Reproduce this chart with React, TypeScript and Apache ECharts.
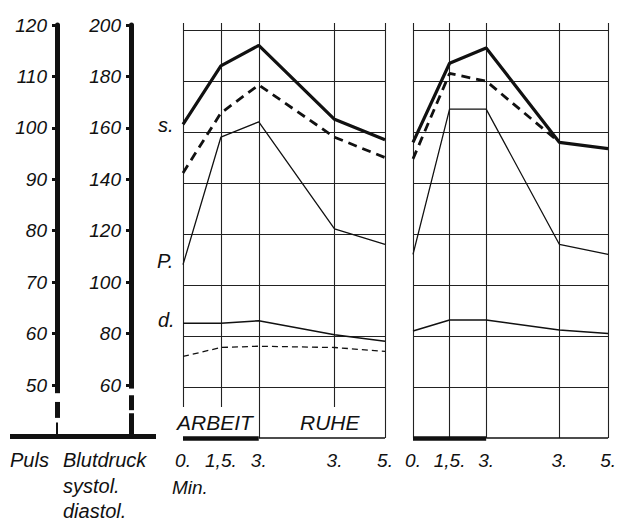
import React, { useEffect, useRef } from 'react';
import * as echarts from 'echarts';

// ---- data ----
const timeTicks = [0, 1.5, 3, 6, 8]; // Arbeit 0,1.5,3 min ; Ruhe 3,5 min (continuous time)
const timeLabels = ['0.', '1,5.', '3.', '3.', '5.'];
const gridLevels = [50, 60, 70, 80, 90, 100, 110, 120]; // Puls scale grid lines

// Panel I
const sysSolidI = [163, 186, 194, 165, 157];
const sysDashI = [144, 167.5, 178.5, 158, 150];
const pulsI = [74, 99, 102, 81, 78];
const diaSolidI = [85, 85, 86, 80.5, 78];
const diaDashI = [72, 75.5, 76, 75.5, 74];

// Panel II
const sysSolidII = [156, 187, 193, 156, 153.5];
const sysDashII = [149.5, 183, 180, 156];
const pulsII = [76, 104.5, 104.5, 78, 76];
const diaSolidII = [82, 86.3, 86.3, 82.4, 81];

// ---- layout / style ----
const FONT = "'Liberation Sans', 'DejaVu Sans', sans-serif";
const INK = '#111';
const GRIDC = '#222';
const P_MIN = 40;
const P_TOP = 121.4;
const BP_MIN = 40;
const BP_TOP = 2 * P_TOP - 40;
const PARTIAL_BOTTOM = 46.1;

const pairs = (vals: number[]) => vals.map((v, i) => [timeTicks[i], v]);

const seg = (a: number[], b: number[], style: any = {}) => [
  { coord: a, lineStyle: style },
  { coord: b },
];

function panelFrame(xi: number, yi: number, partial: boolean) {
  const data: any[] = [];
  gridLevels.forEach((v) => data.push(seg([0, v], [8, v], { width: 1.1, color: GRIDC })));
  timeTicks.forEach((t) => {
    const full = !partial || t === 3 || t === 8;
    data.push(seg([t, P_TOP], [t, full ? P_MIN : PARTIAL_BOTTOM], { width: 1.1, color: GRIDC }));
  });
  data.push(seg([0, P_MIN], [3, P_MIN], { width: 4.5, color: INK }));
  data.push(seg([3, P_MIN], [8, P_MIN], { width: 1.6, color: INK }));
  return {
    type: 'line',
    xAxisIndex: xi,
    yAxisIndex: yi,
    data: [],
    symbol: 'none',
    silent: true,
    markLine: {
      silent: true,
      symbol: ['none', 'none'],
      label: { show: false },
      animation: false,
      z: 1,
      lineStyle: { type: 'solid', color: GRIDC, width: 1 },
      data,
    },
  };
}

function lineSeries(xi: number, yi: number, vals: number[], width: number, type: any = 'solid') {
  return {
    type: 'line',
    xAxisIndex: xi,
    yAxisIndex: yi,
    data: pairs(vals),
    symbol: 'none',
    z: 3,
    lineStyle: { color: INK, width, type },
  };
}

const panelX = (gi: number) => ({
  gridIndex: gi,
  type: 'value',
  min: 0,
  max: 8,
  interval: 0.5,
  axisLine: { show: false },
  axisTick: { show: false },
  splitLine: { show: false },
  axisLabel: {
    show: true,
    margin: 13,
    fontSize: 19,
    fontStyle: 'italic',
    fontFamily: FONT,
    color: INK,
    showMinLabel: true,
    showMaxLabel: true,
    formatter: (v: number) => {
      const i = timeTicks.indexOf(v);
      return i >= 0 ? timeLabels[i] : '';
    },
  },
});

const hiddenY = (gi: number, min: number, max: number) => ({
  gridIndex: gi,
  type: 'value',
  min,
  max,
  show: false,
});

const labeledY = (gi: number, min: number, max: number, interval: number) => ({
  gridIndex: gi,
  type: 'value',
  position: 'left',
  min,
  max,
  interval,
  axisLine: { show: true, lineStyle: { color: INK, width: 5 } },
  axisTick: { show: true, length: 5, lineStyle: { color: INK, width: 3 } },
  splitLine: { show: false },
  axisLabel: {
    margin: 10,
    fontSize: 19,
    fontStyle: 'italic',
    fontFamily: FONT,
    color: INK,
    padding: [0, 0, 6, 0],
  },
});

const textEl = (text: string, x: number, y: number, size = 20) => ({
  type: 'text',
  x,
  y,
  silent: true,
  z: 10,
  style: {
    text,
    fontSize: size,
    fontStyle: 'italic',
    fontFamily: FONT,
    fill: INK,
    align: 'left',
    verticalAlign: 'middle',
  },
});

export default function App() {
  const ref = useRef<HTMLDivElement>(null);

  useEffect(() => {
    document.body.style.margin = '0';
    if (!ref.current) return;
    const chart = echarts.init(ref.current, undefined, { renderer: 'svg' });

    const helperSegs = [
      seg([10, 40], [156, 40], { width: 5, color: INK }),
      // Puls axis continuation
      seg([57, 50], [57, 48.4], { width: 5, color: INK }),
      seg([57, 46.7], [57, 43.6], { width: 5, color: INK }),
      seg([57, 42.7], [57, 40], { width: 2, color: INK }),
      // Blutdruck axis continuation
      seg([131, 50], [131, 49.3], { width: 5, color: INK }),
      seg([131, 48.0], [131, 45.1], { width: 5, color: INK }),
      seg([131, 44.5], [131, 40], { width: 5, color: INK }),
    ];

    const option: any = {
      animation: false,
      backgroundColor: '#ffffff',
      grid: [
        { left: 183, width: 202, top: 23, height: 415 },
        { left: 413, width: 200, top: 23, height: 415 },
        { left: 57, width: 1, top: 25, height: 360 },
        { left: 131, width: 1, top: 25, height: 360 },
        { left: 0, width: 160, top: 25, height: 411.4 },
      ],
      xAxis: [
        panelX(0),
        panelX(1),
        { gridIndex: 2, type: 'value', min: 0, max: 1, show: false },
        { gridIndex: 3, type: 'value', min: 0, max: 1, show: false },
        { gridIndex: 4, type: 'value', min: 0, max: 160, show: false },
      ],
      yAxis: [
        hiddenY(0, P_MIN, P_TOP),
        hiddenY(0, BP_MIN, BP_TOP),
        hiddenY(1, P_MIN, P_TOP),
        hiddenY(1, BP_MIN, BP_TOP),
        labeledY(2, 50, 120, 10),
        labeledY(3, 60, 200, 20),
        hiddenY(4, 40, 120),
      ],
      series: [
        panelFrame(0, 0, true),
        panelFrame(1, 2, false),
        lineSeries(0, 1, sysSolidI, 3.2),
        lineSeries(0, 1, sysDashI, 2.8, [9, 6]),
        lineSeries(0, 0, pulsI, 1.3),
        lineSeries(0, 1, diaSolidI, 1.5),
        lineSeries(0, 1, diaDashI, 1.3, [6, 4]),
        lineSeries(1, 3, sysSolidII, 3.2),
        lineSeries(1, 3, sysDashII, 2.8, [9, 6]),
        lineSeries(1, 2, pulsII, 1.3),
        lineSeries(1, 3, diaSolidII, 1.5),
        {
          type: 'line',
          xAxisIndex: 4,
          yAxisIndex: 6,
          data: [],
          symbol: 'none',
          silent: true,
          markLine: {
            silent: true,
            symbol: ['none', 'none'],
            label: { show: false },
            animation: false,
            lineStyle: { type: 'solid', color: INK, width: 5 },
            data: helperSegs,
          },
        },
      ],
      graphic: [
        textEl('s.', 158, 125),
        textEl('P.', 157, 261),
        textEl('d.', 158, 320),
        textEl('ARBEIT', 177, 422, 21),
        textEl('RUHE', 300, 422, 21),
        textEl('Min.', 172, 487, 19),
        textEl('Puls', 10, 460),
        textEl('Blutdruck', 63, 460),
        textEl('systol.', 63, 486),
        textEl('diastol.', 63, 511),
      ],
    };

    chart.setOption(option);
    return () => chart.dispose();
  }, []);

  return <div ref={ref} style={{ width: 619, height: 524 }} />;
}
